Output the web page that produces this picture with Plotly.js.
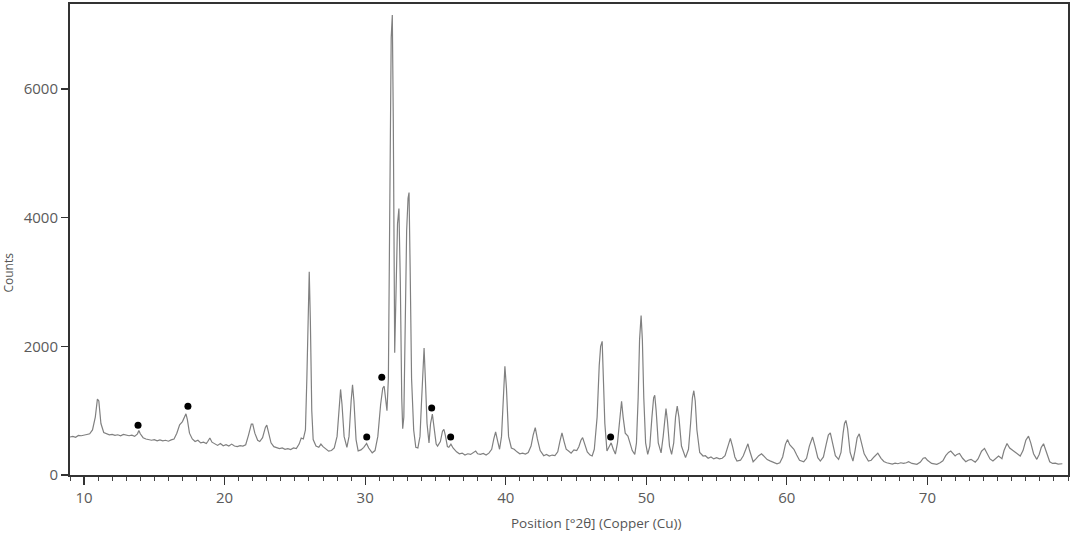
<!DOCTYPE html>
<html>
<head>
<meta charset="utf-8">
<script src="https://cdn.plot.ly/plotly-3.0.1.min.js"></script>
<style>html,body{margin:0;padding:0;background:#fff;}#chart{width:1072px;height:538px;}</style>
</head>
<body>
<div id="chart"></div>
<script>
// 2θ positions (degrees) of the measured pattern
const twoTheta = [
9.0,9.2,9.4,9.6,9.8,10.0,10.2,10.4,10.6,10.8,10.95,11.05,11.2,11.4,11.6,11.8,12.0,12.2,12.4,12.6,12.8,13.0,13.2,13.4,13.6,13.8,13.9,14.0,14.2,14.4,14.6,14.8,15.0,15.2,15.4,15.6,15.8,16.0,16.2,16.4,16.6,16.8,17.0,17.15,17.25,17.35,17.5,17.7,17.9,18.1,18.3,18.5,18.7,18.8,18.95,19.1,19.3,19.5,19.7,19.9,20.1,20.3,20.5,20.7,20.9,21.1,21.3,21.5,21.7,21.9,22.0,22.15,22.35,22.5,22.7,22.9,23.0,23.1,23.3,23.5,23.7,23.9,24.1,24.3,24.5,24.7,24.9,25.1,25.3,25.45,25.6,25.75,25.85,25.95,26.02,26.1,26.2,26.3,26.5,26.7,26.85,27.0,27.2,27.4,27.6,27.8,28.0,28.15,28.25,28.35,28.5,28.7,28.85,29.0,29.1,29.2,29.35,29.5,29.7,29.9,30.1,30.25,30.5,30.7,30.9,31.1,31.25,31.35,31.45,31.55,31.65,31.75,31.85,31.93,32.0,32.1,32.2,32.3,32.4,32.5,32.6,32.67,32.75,32.85,32.95,33.05,33.12,33.2,33.3,33.45,33.6,33.75,33.9,34.0,34.1,34.19,34.28,34.4,34.54,34.65,34.78,34.9,35.05,35.15,35.35,35.5,35.6,35.7,35.85,35.95,36.1,36.25,36.5,36.7,36.9,37.1,37.3,37.5,37.7,37.86,38.0,38.2,38.4,38.6,38.8,39.0,39.15,39.28,39.4,39.56,39.7,39.82,39.94,40.05,40.2,40.4,40.6,40.8,41.0,41.2,41.4,41.6,41.8,41.95,42.1,42.25,42.45,42.7,42.9,43.1,43.3,43.5,43.7,43.85,44.0,44.15,44.3,44.47,44.65,44.85,45.05,45.2,45.35,45.47,45.6,45.8,46.0,46.15,46.3,46.5,46.65,46.75,46.86,46.95,47.05,47.2,47.35,47.5,47.65,47.8,47.95,48.1,48.24,48.35,48.5,48.69,48.85,49.0,49.18,49.3,49.42,49.52,49.63,49.72,49.82,49.95,50.1,50.25,50.4,50.52,50.6,50.7,50.85,51.05,51.2,51.32,51.4,51.5,51.65,51.8,51.95,52.08,52.2,52.32,52.5,52.79,53.0,53.15,53.28,53.38,53.48,53.6,53.8,54.04,54.2,54.4,54.6,54.8,55.0,55.2,55.4,55.6,55.8,55.98,56.15,56.3,56.45,56.7,56.9,57.1,57.23,57.35,57.6,57.8,58.0,58.2,58.4,58.6,58.8,59.0,59.3,59.5,59.7,59.9,60.05,60.2,60.5,60.7,60.9,61.2,61.4,61.6,61.83,62.0,62.2,62.38,62.6,62.8,62.95,63.09,63.25,63.45,63.68,63.85,64.0,64.1,64.2,64.32,64.5,64.7,64.85,65.0,65.15,65.3,65.5,65.8,66.0,66.2,66.47,66.7,66.9,67.1,67.3,67.5,67.7,67.9,68.1,68.3,68.5,68.66,68.9,69.25,69.5,69.7,69.84,70.0,70.3,70.67,70.9,71.1,71.3,71.5,71.66,71.8,71.97,72.1,72.28,72.5,72.73,72.9,73.1,73.25,73.4,73.6,73.85,74.06,74.25,74.45,74.66,74.85,75.06,75.3,75.45,75.66,75.85,76.13,76.4,76.6,76.8,77.0,77.19,77.35,77.55,77.78,77.95,78.1,78.26,78.45,78.7,78.9,79.1,79.3,79.6
];
// counts
const counts = [
590,600,585,615,610,625,630,640,700,900,1180,1150,800,660,640,625,630,615,625,610,630,620,610,620,600,640,690,640,580,560,545,540,550,530,545,530,540,525,545,560,650,780,830,900,950,860,650,560,520,540,500,510,490,520,575,510,480,460,490,455,470,450,480,450,440,455,450,470,620,790,790,650,540,520,580,740,775,680,500,440,430,410,420,400,410,395,420,410,480,575,560,700,1500,2800,3160,2400,1000,550,450,430,480,440,400,370,380,420,600,1050,1330,1100,600,430,600,1150,1400,1150,550,375,390,430,490,420,345,380,600,1100,1350,1380,1200,1000,1500,4000,6800,7150,5500,1900,2800,3900,4140,3000,1200,720,900,2200,3800,4300,4390,3200,1500,700,430,420,600,1100,1700,1975,1500,800,500,800,945,750,480,450,520,680,710,620,440,430,480,420,360,330,340,310,330,320,345,372,330,320,335,310,340,400,560,670,550,400,600,1200,1690,1350,600,420,400,360,330,340,325,350,450,620,735,560,380,300,320,295,310,300,360,520,655,520,400,372,340,390,380,440,540,580,480,360,310,295,400,900,1700,2000,2077,1600,800,372,440,500,400,325,500,900,1147,900,650,605,500,380,320,500,1200,2100,2480,2100,1200,500,320,450,900,1200,1240,1000,500,345,600,950,1033,850,450,320,500,900,1070,900,450,270,400,800,1200,1310,1150,700,350,295,300,260,280,250,270,250,260,300,450,570,430,280,217,230,300,430,485,380,206,250,300,330,290,240,220,200,175,190,280,480,550,470,400,310,230,206,260,450,590,450,270,217,280,480,620,655,480,300,243,350,650,800,848,720,350,217,380,580,640,500,330,217,230,280,340,260,210,190,175,170,185,175,190,180,190,206,180,165,200,260,270,230,180,165,190,220,300,350,372,330,295,320,335,260,206,230,243,220,200,250,370,413,330,250,217,260,295,253,380,490,420,372,330,295,380,540,605,500,330,243,320,430,485,350,206,180,185,170,175
];
// marked reflections (black dots)
const markX = [13.84, 17.39, 30.11, 31.18, 34.73, 36.08, 47.46];
const markY = [775, 1070, 590, 1520, 1040, 590, 590];

const xTickVals = [10, 20, 30, 40, 50, 60, 70];
const yTickVals = [0, 2000, 4000, 6000];
const xTitle = 'Position [°2θ] (Copper (Cu))';
const yTitle = 'Counts';

const traces = [
  {x: twoTheta, y: counts, type: 'scatter', mode: 'lines',
   line: {color: '#808080', width: 1.2}, hoverinfo: 'x+y', showlegend: false},
  {x: markX, y: markY, type: 'scatter', mode: 'markers',
   marker: {color: '#000', size: 7}, showlegend: false}
];

const tickFont = {family: 'Open Sans, sans-serif', size: 15, color: '#5a5a5a'};
const titleFont = {family: 'Open Sans, sans-serif', size: 13.5, color: '#555'};
const layout = {
  width: 1072, height: 538,
  margin: {l: 70, r: 4, t: 4, b: 63},
  paper_bgcolor: '#fff', plot_bgcolor: '#fff',
  showlegend: false,
  xaxis: {
    range: [9.0, 80.0], tickvals: xTickVals, ticktext: xTickVals.map(String),
    ticks: 'outside', ticklen: 8, tickwidth: 1.2, tickcolor: '#333',
    minor: {dtick: 1, tick0: 0, ticks: 'outside', ticklen: 4, tickwidth: 1, tickcolor: '#444'},
    showline: true, linecolor: '#333', linewidth: 2, mirror: true,
    showgrid: false, zeroline: false, tickfont: tickFont,
    title: {text: ''}
  },
  yaxis: {
    range: [0, 7320], tickvals: yTickVals, ticktext: yTickVals.map(String),
    ticks: 'outside', ticklen: 7, tickwidth: 1.2, tickcolor: '#333',
    showline: true, linecolor: '#333', linewidth: 2, mirror: true,
    showgrid: false, zeroline: false, tickfont: tickFont,
    title: {text: ''}
  },
  annotations: [
    {text: xTitle, xref: 'paper', yref: 'paper', x: 0.528, y: -0.102,
     xanchor: 'center', yanchor: 'middle', showarrow: false, font: titleFont},
    {text: yTitle, xref: 'paper', yref: 'paper', x: -0.062, y: 0.43,
     xanchor: 'center', yanchor: 'middle', showarrow: false, textangle: -90,
     font: {family: 'Open Sans, sans-serif', size: 12, color: '#555'}}
  ]
};

Plotly.newPlot('chart', traces, layout, {displayModeBar: false, staticPlot: true});
</script>
</body>
</html>
